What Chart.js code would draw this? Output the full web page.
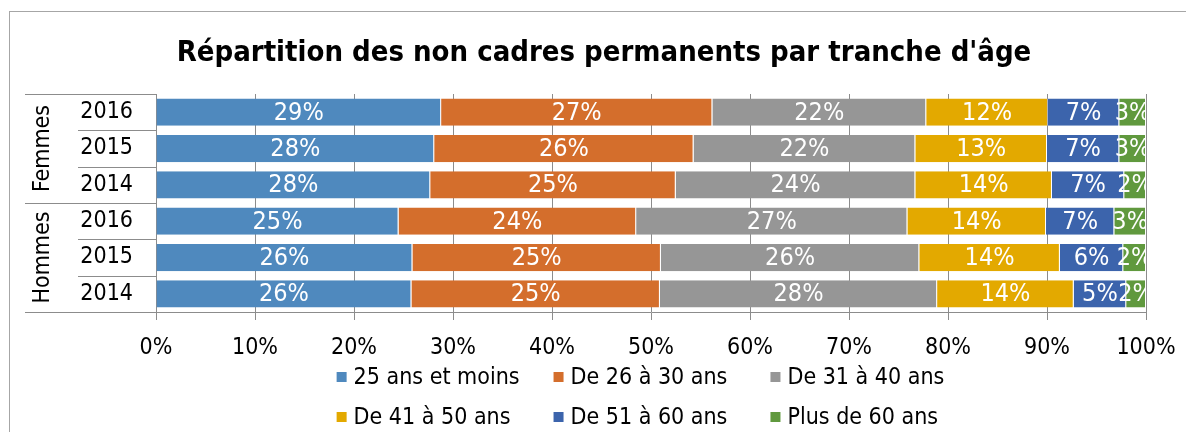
<!DOCTYPE html>
<html>
<head>
<meta charset="utf-8">
<script src="https://cdn.jsdelivr.net/npm/chart.js@4/dist/chart.umd.min.js"></script>
<style>
  html, body { margin: 0; padding: 0; background: #fff; }
  #wrap { width: 1186px; height: 432px; position: relative; }
</style>
</head>
<body>
<div id="wrap"><canvas id="chart" width="1186" height="432"></canvas></div>
<script>
const FONT = "'DejaVu Sans Condensed', 'DejaVu Sans', sans-serif";

const chartTitle = "Répartition des non cadres permanents par tranche d'âge";
const groups = ['Femmes', 'Hommes'];
const years = ['2016', '2015', '2014', '2016', '2015', '2014'];
const seriesNames = ['25 ans et moins', 'De 26 à 30 ans', 'De 31 à 40 ans', 'De 41 à 50 ans', 'De 51 à 60 ans', 'Plus de 60 ans'];
const seriesColors = ['#4f89be', '#d46e2c', '#969696', '#e3a900', '#3c64ac', '#60993e'];

// parts in %, one value per bar (Femmes 2016..2014, Hommes 2016..2014)
const age25 = [28.8, 28.1, 27.7, 24.5, 25.9, 25.8];
const age26_30 = [27.4, 26.2, 24.8, 24.0, 25.1, 25.1];
const age31_40 = [21.6, 22.4, 24.2, 27.4, 26.1, 28.0];
const age41_50 = [12.3, 13.3, 13.8, 14.0, 14.2, 13.8];
const age51_60 = [7.2, 7.3, 7.3, 6.9, 6.4, 5.3];
const age60plus = [2.7, 2.7, 2.2, 3.2, 2.3, 2.0];
const xTicks = [0, 10, 20, 30, 40, 50, 60, 70, 80, 90, 100];

const seriesValues = [age25, age26_30, age31_40, age41_50, age51_60, age60plus];

const frame = {
    id: 'frame',
    beforeDraw(chart) {
        const ctx = chart.ctx;
        ctx.save();
        ctx.strokeStyle = '#a6a6a6';
        ctx.lineWidth = 1;
        ctx.strokeRect(9.5, 11.5, 1400, 1000);
        // title, centred on the frame rather than the plot
        ctx.fillStyle = '#000';
        ctx.font = 'bold 29px ' + FONT;
        ctx.textAlign = 'center';
        ctx.textBaseline = 'middle';
        ctx.fillText(chartTitle, 604, 53);
        ctx.restore();
    }
};

const barLabels = {
    id: 'barLabels',
    afterDatasetsDraw(chart) {
        const ctx = chart.ctx;
        const area = chart.chartArea;
        ctx.save();
        ctx.beginPath();
        ctx.rect(area.left, area.top, area.right - area.left, area.bottom - area.top);
        ctx.clip();
        ctx.fillStyle = '#ffffff';
        ctx.font = '25px ' + FONT;
        ctx.textAlign = 'center';
        ctx.textBaseline = 'middle';
        chart.data.datasets.forEach((ds, i) => {
            chart.getDatasetMeta(i).data.forEach((bar, j) => {
                const cx = (bar.x + bar.base) / 2;
                ctx.fillText(Math.round(ds.data[j]) + '%', cx, bar.y + 1);
            });
        });
        ctx.restore();
    }
};

const groupAxis = {
    id: 'groupAxis',
    afterDraw(chart) {
        const ctx = chart.ctx;
        const area = chart.chartArea;
        const n = years.length;
        const step = (area.bottom - area.top) / n;
        ctx.save();
        ctx.strokeStyle = '#8c8c8c';
        ctx.lineWidth = 1;
        for (let i = 0; i <= n; i++) {
            const py = Math.round(area.top + i * step) + 0.5;
            const x0 = (i % 3 === 0) ? 25 : 78;
            ctx.beginPath();
            ctx.moveTo(x0, py);
            ctx.lineTo(area.left, py);
            ctx.stroke();
        }
        ctx.fillStyle = '#000';
        ctx.font = '23px ' + FONT;
        ctx.textAlign = 'center';
        ctx.textBaseline = 'middle';
        groups.forEach((g, k) => {
            const cy = area.top + (k * 3 + 1.5) * step;
            ctx.save();
            ctx.translate(43, cy);
            ctx.rotate(-Math.PI / 2);
            ctx.fillText(g, 0, 0);
            ctx.restore();
        });

        // legend, three items per row in aligned columns
        ctx.font = '23px ' + FONT;
        ctx.textAlign = 'left';
        const box = 10, gap = 7, colGap = 34;
        const widths = seriesNames.map(s => box + gap + ctx.measureText(s).width);
        const colW = Math.max(...widths) + colGap;
        const total = colW * 3 - colGap;
        const x0 = (area.left + area.right) / 2 - 6 - total / 2;
        const rowY = 377;
        seriesNames.forEach((s, i) => {
            const col = i % 3, row = Math.floor(i / 3);
            const lx = x0 + col * colW;
            const ly = rowY + row * 40;
            ctx.fillStyle = seriesColors[i];
            ctx.fillRect(lx, ly - box / 2, box, box);
            ctx.fillStyle = '#000';
            ctx.fillText(s, lx + box + gap, ly + 1);
        });
        ctx.restore();
    }
};

new Chart(document.getElementById('chart'), {
    type: 'bar',
    data: {
        labels: years,
        datasets: seriesNames.map((name, i) => ({
            label: name,
            data: seriesValues[i],
            backgroundColor: seriesColors[i],
            borderColor: 'rgba(255,255,255,0.35)',
            borderWidth: { top: 0, bottom: 0, left: 0, right: 1 },
            borderSkipped: false,
            categoryPercentage: 0.75,
            barPercentage: 1
        }))
    },
    options: {
        indexAxis: 'y',
        responsive: false,
        animation: false,
        layout: { padding: { left: 22, right: 36, top: 94, bottom: 74 } },
        plugins: {
            legend: { display: false },
            tooltip: { enabled: false },
            title: { display: false }
        },
        scales: {
            x: {
                stacked: true,
                min: 0,
                max: 100,
                afterBuildTicks: scale => { scale.ticks = xTicks.map(v => ({ value: v })); },
                afterFit: scale => { scale.height = 46; scale.paddingRight = 40; },
                grid: { color: '#8c8c8c', tickLength: 8, drawTicks: true },
                border: { display: true, color: '#8c8c8c' },
                ticks: {
                    color: '#000',
                    padding: 14,
                    maxRotation: 0,
                    font: { family: FONT, size: 23, lineHeight: 1.2 },
                    callback: v => v + '%'
                }
            },
            y: {
                stacked: true,
                afterFit: scale => { scale.width = 134; },
                grid: { display: false },
                border: { display: true, color: '#8c8c8c' },
                ticks: {
                    color: '#000',
                    padding: 15,
                    font: { family: FONT, size: 23 }
                }
            }
        }
    },
    plugins: [frame, barLabels, groupAxis]
});
</script>
</body>
</html>
